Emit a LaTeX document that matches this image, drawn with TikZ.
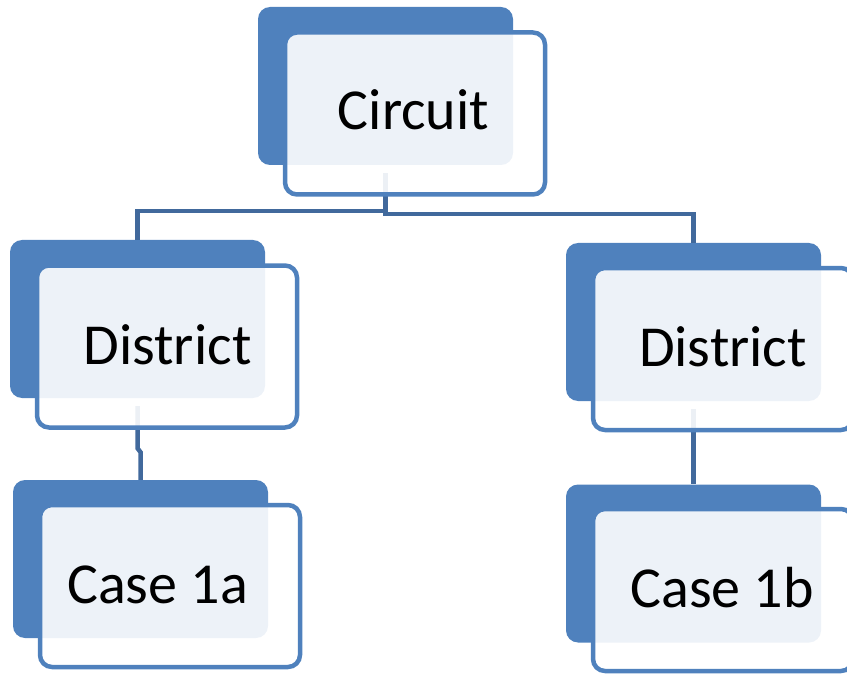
\documentclass[tikz,border=0pt]{standalone}
\usepackage{fontspec}
\setmainfont{Carlito}
\definecolor{accent}{HTML}{4F81BD}
\definecolor{connc}{HTML}{41699C}
\begin{document}
\begin{tikzpicture}[x=1pt,y=-1pt,
 back/.style={draw=none,fill=accent,rounded corners=12pt,minimum width=255pt,minimum height=158pt,inner sep=0pt},
 front/.style={draw=accent,line width=4.5pt,fill=white,fill opacity=0.9,rounded corners=12pt,minimum width=260pt,minimum height=162pt,inner sep=0pt},
 lbl/.style={font=\fontsize{58}{69}\selectfont,anchor=base,inner sep=0pt},
 connl/.style={draw=connc,line width=4.5pt}]
\clip (0,0) rectangle (847,674);
% back boxes
\node[back] (cb) at (385.5,86) {};
\node[back] (d1b) at (137.5,319) {};
\node[back] (a1b) at (140.5,559) {};
\node[back] (d2b) at (693.5,322) {};
\node[back] (b1b) at (693.5,563.5) {};
% connectors
\coordinate (c0) at ([yshift=-8pt]cb.south);
\draw[connl] (c0) -- ++(0,38) -| (d1b.north);
\draw[connl] (c0) -- ++(0,41) -| (d2b.north);
\draw[connl] ([yshift=-8pt]d1b.south) -- ++(0,42) -- ++(3,4) -- (a1b.north);
\draw[connl] ([yshift=-8pt]d2b.south) -- (b1b.north);
% front boxes
\node[front] (cf) at (415,113.5) {};
\node[front] (d1f) at (167,346.5) {};
\node[front] (a1f) at (170,586) {};
\node[front] (d2f) at (723,349) {};
\node[front] (b1f) at (723,590) {};
% labels
\node[lbl] (ct) at (413.5,130) {Circuit};
\node[lbl] (d1t) at (167.5,364) {District};
\node[lbl] (a1t) at (157.5,603) {Case 1a};
\node[lbl] (d2t) at (723,366) {District};
\node[lbl] (b1t) at (722,607) {Case 1b};
\end{tikzpicture}
\end{document}
